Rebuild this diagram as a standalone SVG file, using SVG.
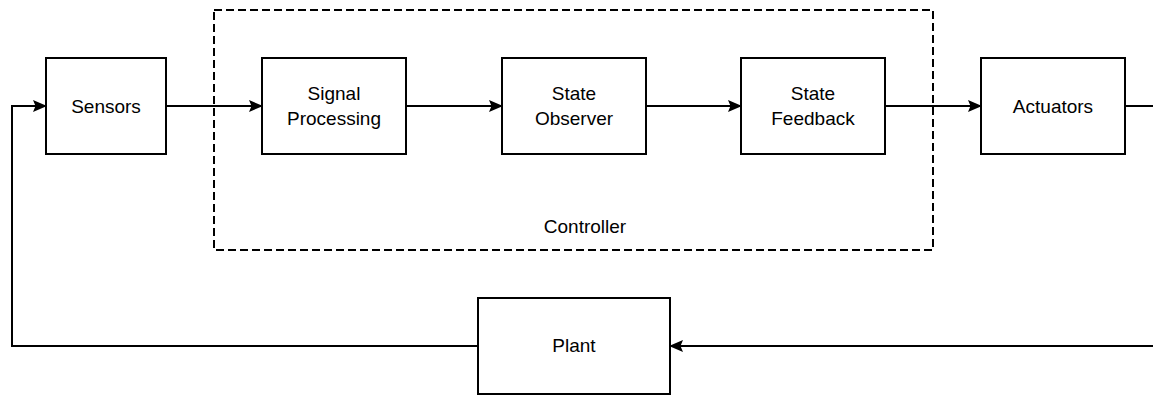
<svg xmlns="http://www.w3.org/2000/svg" width="1153" height="397" viewBox="0 0 1153 397">
<style>
.box{fill:#fff;stroke:#000;stroke-width:2}
.lbl{font-family:"Liberation Sans",Arial,sans-serif;font-size:19px;fill:#000;text-anchor:middle}
.ln{fill:none;stroke:#000;stroke-width:2}
.dash{fill:none;stroke:#000;stroke-width:2;stroke-dasharray:8 4}
</style>
<defs>
<marker id="ah" viewBox="0 0 14 12" refX="13" refY="6" markerWidth="14" markerHeight="12" markerUnits="userSpaceOnUse" orient="auto">
<path d="M0,0 L14,6 L0,12 L2.5,6 Z" fill="#000"/>
</marker>
</defs>
<g id="controller">
<rect class="dash" x="214" y="10" width="719" height="240"/>
<text class="lbl" x="585" y="233">Controller</text>
</g>
<g id="connectors">
<path class="ln" d="M166,106 H262" marker-end="url(#ah)"/>
<path class="ln" d="M406,106 H502" marker-end="url(#ah)"/>
<path class="ln" d="M646,106 H741" marker-end="url(#ah)"/>
<path class="ln" d="M885,106 H981" marker-end="url(#ah)"/>
<path class="ln" d="M1125,106 H1153"/>
<path class="ln" d="M1153,346 H670" marker-end="url(#ah)"/>
<path class="ln" d="M478,346 H12 V106 H46" marker-end="url(#ah)"/>
</g>
<g id="sensors">
<rect class="box" x="46" y="58" width="120" height="96"/>
<text class="lbl" x="106" y="113">Sensors</text>
</g>
<g id="signal-processing">
<rect class="box" x="262" y="58" width="144" height="96"/>
<text class="lbl" x="334" y="100">Signal</text>
<text class="lbl" x="334" y="125">Processing</text>
</g>
<g id="state-observer">
<rect class="box" x="502" y="58" width="144" height="96"/>
<text class="lbl" x="574" y="100">State</text>
<text class="lbl" x="574" y="125">Observer</text>
</g>
<g id="state-feedback">
<rect class="box" x="741" y="58" width="144" height="96"/>
<text class="lbl" x="813" y="100">State</text>
<text class="lbl" x="813" y="125">Feedback</text>
</g>
<g id="actuators">
<rect class="box" x="981" y="58" width="144" height="96"/>
<text class="lbl" x="1053" y="113">Actuators</text>
</g>
<g id="plant">
<rect class="box" x="478" y="298" width="192" height="96"/>
<text class="lbl" x="574" y="352">Plant</text>
</g>
</svg>
